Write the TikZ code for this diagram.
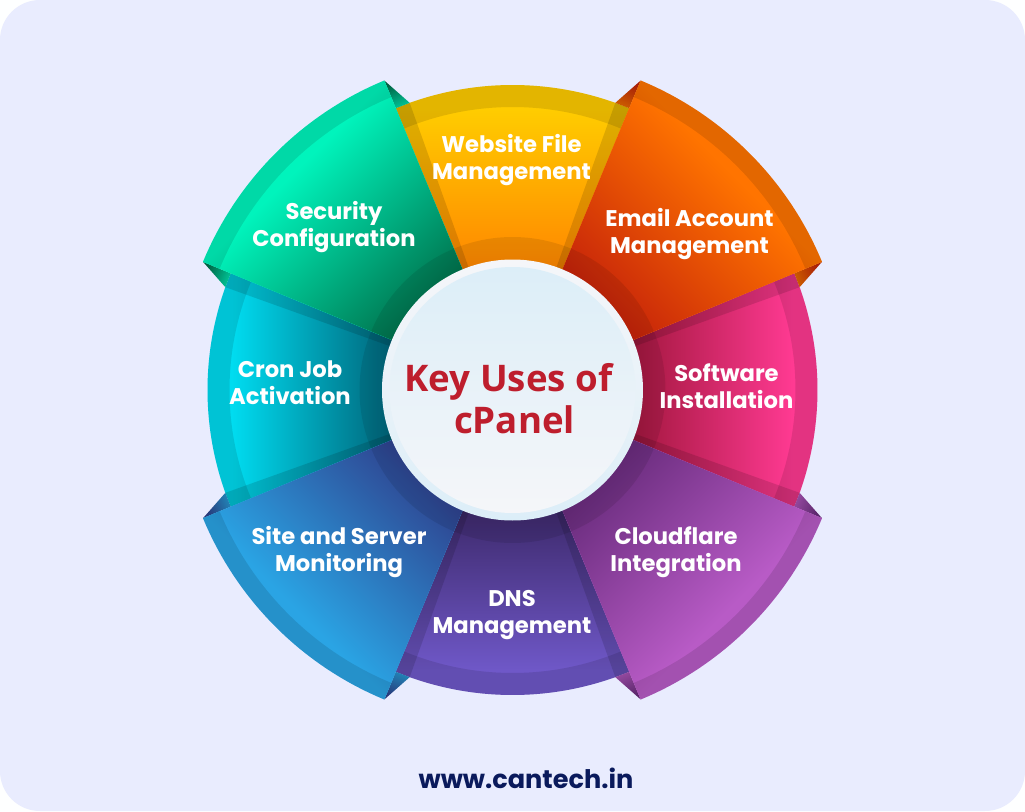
\documentclass[tikz,border=0pt]{standalone}
\usepackage{fontspec}
\setmainfont{Poppins}
\newfontfamily\titlefont{Open Sans}
\definecolor{pagebg}{HTML}{E9ECFE}
\definecolor{yelout}{HTML}{FFCC00}\definecolor{yelin}{HTML}{FF8400}
\definecolor{cyaout}{HTML}{00DCF0}\definecolor{cyain}{HTML}{006075}
\definecolor{dnsout}{HTML}{6F58C8}\definecolor{dnsin}{HTML}{3C2869}
\definecolor{pnkout}{HTML}{FF3A92}\definecolor{pnkin}{HTML}{A0163C}
\definecolor{grnout}{HTML}{00F4BC}\definecolor{grnin}{HTML}{006F4A}
\definecolor{orgout}{HTML}{FF7400}\definecolor{orgin}{HTML}{C4200A}
\definecolor{bluout}{HTML}{2AA4E4}\definecolor{bluin}{HTML}{2F3F8C}
\definecolor{vioout}{HTML}{B85BC6}\definecolor{vioin}{HTML}{662A7A}
\definecolor{keyred}{HTML}{BE1E2D}
\definecolor{webnavy}{HTML}{0A1A5C}
\definecolor{hubpale}{HTML}{F5F6F9}
\definecolor{hubblue}{HTML}{DCEEF8}
\tikzset{
  seglabel/.style={text=white,align=center,font=\bfseries\fontsize{17}{20.25}\selectfont},
  bandshade/.style={fill=black,fill opacity=.11},
  hubshade/.style={fill=black,fill opacity=.09},
  edgeshade/.style={fill=black,fill opacity=.13}
}
\newcommand{\wheelseg}[6]{% from, to, outer radius, outer colour, inner colour, band start
  \pgfmathsetmacro{\segrot}{(#1+#2)/2-90}
  \pgfmathsetmacro{\segend}{#3*.92}
  \begin{scope}
    \clip (#1:126) -- (#1:#3) arc[start angle=#1,end angle=#2,radius=#3]
      -- (#2:126) arc[start angle=#2,end angle=#1,radius=126] -- cycle;
    \fill[#4] (-340,-340) rectangle (340,340);
    \shade[transform canvas={rotate=\segrot},top color=#4,bottom color=#5] (-340,115) rectangle (340,\segend);
  \end{scope}
  \fill[bandshade] (#1:#6) -- (#1:#3) arc[start angle=#1,end angle=#2,radius=#3]
    -- (#2:#6) arc[start angle=#2,end angle=#1,radius=#6] -- cycle;
  \fill[hubshade] (#1:126) -- (#1:153) arc[start angle=#1,end angle=#2,radius=153]
    -- (#2:126) arc[start angle=#2,end angle=#1,radius=126] -- cycle;
}
\begin{document}
\begin{tikzpicture}[x=.75pt,y=.75pt]
\fill[white!98!pagebg] (-512.5,-421) rectangle (512.5,390);
\fill[pagebg,rounded corners=30pt] (-512.5,-421) rectangle (512.5,390);
% small segments
\foreach \a/\b/\cout/\cin in {67.5/112.5/yelout/yelin,157.5/202.5/cyaout/cyain,247.5/292.5/dnsout/dnsin,-22.5/22.5/pnkout/pnkin}{
  \wheelseg{\a}{\b}{305}{\cout}{\cin}{283}
  \pgfmathsetmacro{\aa}{\a+2.8}
  \pgfmathsetmacro{\bb}{\b-2.8}
  \fill[edgeshade] (\a:126) -- (\a:305) arc[start angle=\a,end angle=\aa,radius=305] -- (\aa:126) -- cycle;
  \fill[edgeshade] (\b:126) -- (\b:305) arc[start angle=\b,end angle=\bb,radius=305] -- (\bb:126) -- cycle;
}
% folds behind the tips of the large segments
\foreach \t/\s/\dark/\light in {112.5/-2.8/grnin/grnout,157.5/2.8/grnin/grnout,67.5/2.8/orgin/orgout,22.5/-2.8/orgin/orgout,
  202.5/-2.8/bluin/bluout,247.5/2.8/bluin/bluout,292.5/-2.8/vioin/vioout,337.5/2.8/vioin/vioout}{
  \pgfmathsetmacro{\u}{\t+\s}
  \pgfmathsetmacro{\foldrot}{\t-90}
  \shade[top color=\dark!85!black,bottom color=\light!80!black,shading angle=\foldrot] (\t:335) -- (\u:305) -- (\t:305) -- cycle;
}
% large segments
\wheelseg{112.5}{157.5}{335}{grnout}{grnin}{317}
\wheelseg{22.5}{67.5}{335}{orgout}{orgin}{317}
\wheelseg{202.5}{247.5}{335}{bluout}{bluin}{317}
\wheelseg{292.5}{337.5}{335}{vioout}{vioin}{317}
% hub
\shade[top color=hubpale,bottom color=hubblue] (0,0) circle[radius=130.5];
\shade[top color=hubblue,bottom color=hubpale] (0,0) circle[radius=123];
\node[seglabel] (website) at (-1,230) {Website File\\Management};
\node[seglabel] (security) at (-178.5,163) {Security\\Configuration};
\node[seglabel] (email) at (177,156) {Email Account\\Management};
\node[seglabel] (software) at (214,4) {Software\\Installation};
\node[seglabel] (cron) at (-222.5,7) {Cron Job\\Activation};
\node[seglabel] (monitoring) at (-173.5,-162) {Site and Server\\Monitoring};
\node[seglabel] (cloudflare) at (163.5,-162) {Cloudflare\\Integration};
\node[seglabel] (dns) at (-.5,-225) {DNS\\Management};
\node[text=keyred,align=center,font=\titlefont\bfseries\fontsize{27.5}{31.5}\selectfont] (title) at (-4,-9) {Key Uses of\\\hspace*{9pt}cPanel};
\node[text=webnavy,font=\bfseries\fontsize{19.2}{22}\selectfont] (weburl) at (13.5,-388) {www.cantech.in};
\end{tikzpicture}
\end{document}
